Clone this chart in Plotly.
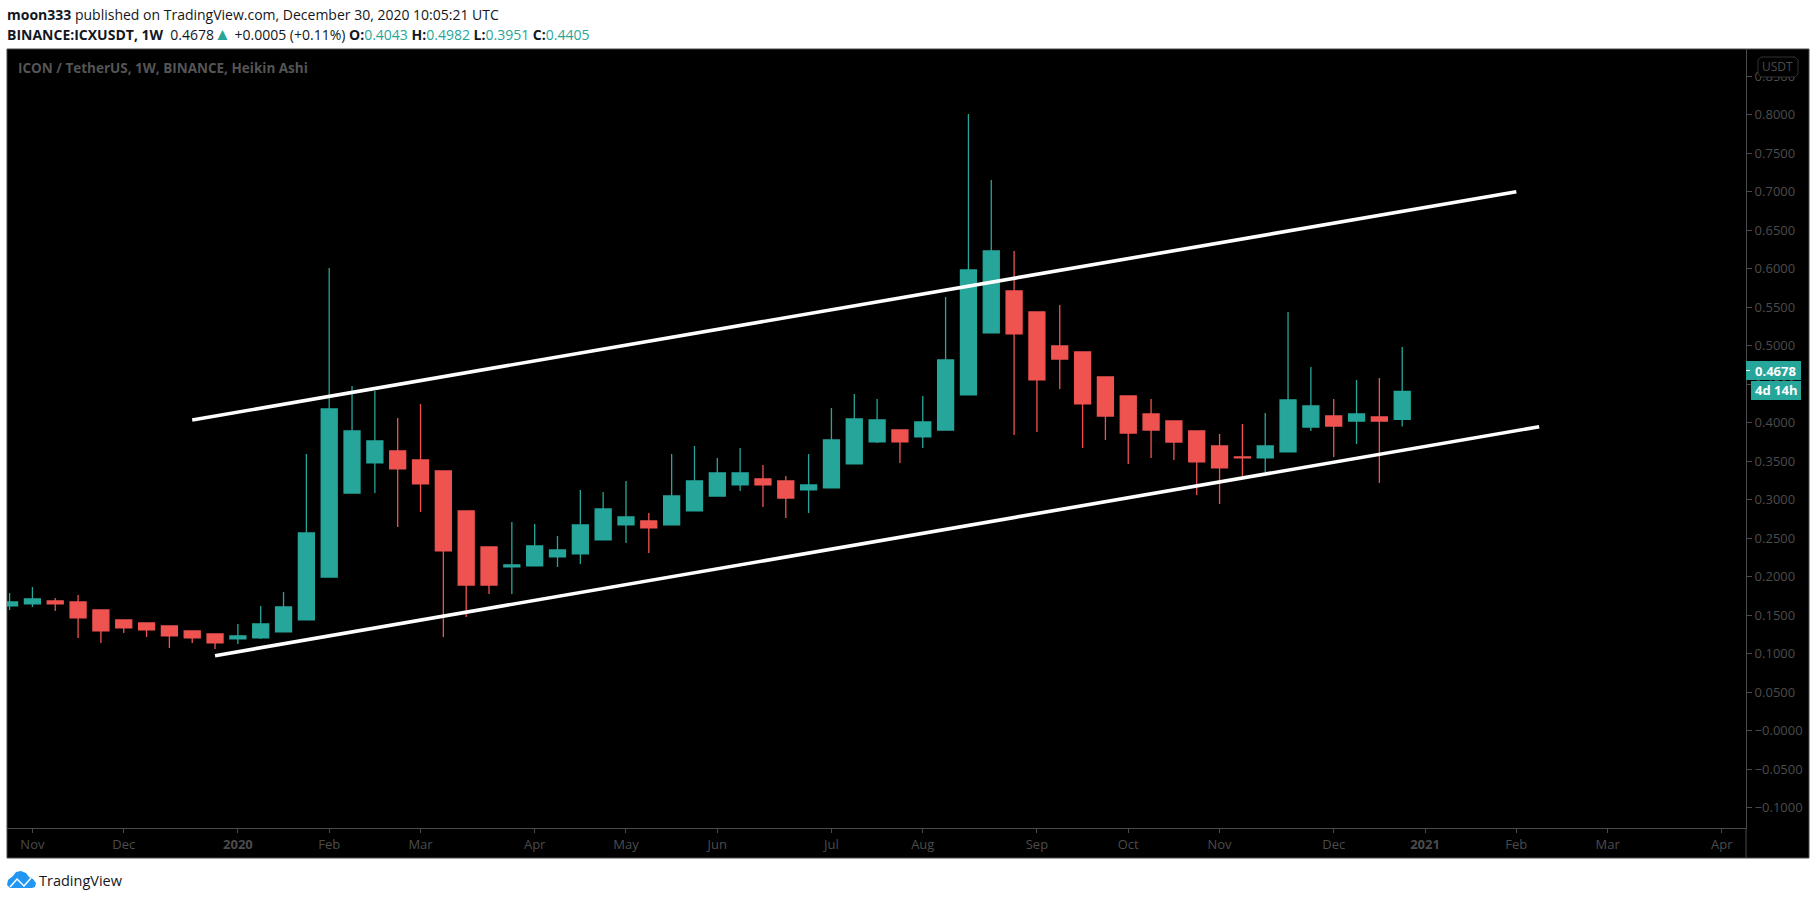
import pandas as pd
import plotly.graph_objects as go

# weekly Heikin Ashi candles
dates = pd.date_range('2019-10-28', periods=62, freq='7D')
opens = [0.1620, 0.1646, 0.1685, 0.1672, 0.1568, 0.1438, 0.1399, 0.1360, 0.1295, 0.1256,
         0.1191, 0.1204, 0.1282, 0.1438, 0.1996, 0.3087, 0.3477, 0.3633, 0.3516, 0.3373,
         0.2854, 0.2386, 0.2126, 0.2139, 0.2256, 0.2295, 0.2477, 0.2672, 0.2724, 0.2672,
         0.2854, 0.3048, 0.3191, 0.3269, 0.3243, 0.3126, 0.3152, 0.3464, 0.3750, 0.3905,
         0.3815, 0.3905, 0.4360, 0.5165, 0.5710, 0.5438, 0.4996, 0.4918, 0.4594, 0.4347,
         0.4113, 0.4022, 0.3892, 0.3697, 0.3555, 0.3542, 0.3620, 0.3944, 0.4087, 0.4022,
         0.4074, 0.4043]
closes = [0.1672, 0.1711, 0.1646, 0.1464, 0.1295, 0.1334, 0.1308, 0.1230, 0.1204, 0.1139,
          0.1230, 0.1386, 0.1607, 0.2568, 0.4178, 0.3892, 0.3763, 0.3399, 0.3204, 0.2334,
          0.1892, 0.1892, 0.2152, 0.2399, 0.2347, 0.2672, 0.2879, 0.2776, 0.2633, 0.3048,
          0.3243, 0.3347, 0.3347, 0.3191, 0.3022, 0.3191, 0.3776, 0.4048, 0.4035, 0.3750,
          0.4009, 0.4815, 0.5983, 0.6230, 0.5152, 0.4555, 0.4827, 0.4243, 0.4087, 0.3866,
          0.3905, 0.3749, 0.3490, 0.3412, 0.3542, 0.3697, 0.4295, 0.4217, 0.3957, 0.4113,
          0.4022, 0.4405]
highs = [0.1789, 0.1867, 0.1724, 0.1763, 0.1568, 0.1438, 0.1399, 0.1360, 0.1295, 0.1256,
         0.1386, 0.1620, 0.1802, 0.3594, 0.6009, 0.4477, 0.4412, 0.4061, 0.4243, 0.3373,
         0.2854, 0.2386, 0.2711, 0.2685, 0.2529, 0.3126, 0.3100, 0.3243, 0.2828, 0.3594,
         0.3698, 0.3542, 0.3672, 0.3451, 0.3308, 0.3594, 0.4191, 0.4373, 0.4308, 0.3905,
         0.4347, 0.5633, 0.8009, 0.7152, 0.6230, 0.5438, 0.5529, 0.4918, 0.4594, 0.4347,
         0.4308, 0.4022, 0.3892, 0.3853, 0.3983, 0.4126, 0.5438, 0.4723, 0.4308, 0.4555,
         0.4581, 0.4982]
lows = [0.1568, 0.1607, 0.1555, 0.1204, 0.1139, 0.1269, 0.1217, 0.1074, 0.1139, 0.1061,
        0.1126, 0.1191, 0.1282, 0.1438, 0.1996, 0.3087, 0.3087, 0.2646, 0.2841, 0.1217,
        0.1477, 0.1776, 0.1776, 0.2139, 0.2126, 0.2165, 0.2477, 0.2438, 0.2308, 0.2672,
        0.2854, 0.3048, 0.3113, 0.2905, 0.2763, 0.2828, 0.3152, 0.3464, 0.3737, 0.3477,
        0.3672, 0.3905, 0.4360, 0.5165, 0.3840, 0.3879, 0.4438, 0.3672, 0.3775, 0.3464,
        0.3542, 0.3516, 0.3061, 0.2944, 0.3308, 0.3360, 0.3620, 0.3892, 0.3555, 0.3723,
        0.3217, 0.3951]

# hand drawn channel
upper_x = ['2019-12-23', '2021-02-01']
upper_y = [0.4035, 0.7000]
lower_x = ['2019-12-30', '2021-02-08']
lower_y = [0.0974, 0.3948]

last_price = 0.4678

y_ticks = [0.85, 0.80, 0.75, 0.70, 0.65, 0.60, 0.55, 0.50, 0.45, 0.40, 0.35, 0.30,
           0.25, 0.20, 0.15, 0.10, 0.05, 0.0, -0.05, -0.10]
y_labels = ['0.8500', '0.8000', '0.7500', '0.7000', '0.6500', '0.6000', '0.5500', '0.5000',
            '0.4500', '0.4000', '0.3500', '0.3000', '0.2500', '0.2000', '0.1500', '0.1000',
            '0.0500', '−0.0000', '−0.0500', '−0.1000']
x_ticks = ['2019-11-04', '2019-12-02', '2020-01-06', '2020-02-03', '2020-03-02', '2020-04-06',
           '2020-05-04', '2020-06-01', '2020-07-06', '2020-08-03', '2020-09-07', '2020-10-05',
           '2020-11-02', '2020-12-07', '2021-01-04', '2021-02-01', '2021-03-01', '2021-04-05']
x_labels = ['Nov', 'Dec', '<b>2020</b>', 'Feb', 'Mar', 'Apr', 'May', 'Jun', 'Jul', 'Aug', 'Sep', 'Oct',
            'Nov', 'Dec', '<b>2021</b>', 'Feb', 'Mar', 'Apr']

GREEN = '#26a69a'
RED = '#ef5350'
GRID = '#4a4a4a'
DIM = '#4c4c4c'
FONT = 'Open Sans'

# page layout in pixels
L, T, R, B = 7, 49, 1746, 828


def px(x):
    return (x - L) / (R - L)


def py(y):
    return (B - y) / (B - T)


def path(points, close=True):
    s = 'M ' + ' L '.join(f'{px(a):.5f} {py(b):.5f}' for a, b in points)
    return s + (' Z' if close else '')


def label(x, y, text, size=13, color=DIM, xanchor='left', **kw):
    # annotations carry about 2px of padding
    if xanchor == 'left':
        x -= 2
    fig.add_annotation(x=px(x), y=py(y), xref='paper', yref='paper', text=text, showarrow=False,
                       xanchor=xanchor, yanchor='middle', align='left',
                       font=dict(family=FONT, size=size, color=color), **kw)


fig = go.Figure()
fig.add_trace(go.Candlestick(
    x=dates, open=opens, high=highs, low=lows, close=closes,
    increasing=dict(line=dict(color=GREEN, width=1.3), fillcolor=GREEN),
    decreasing=dict(line=dict(color=RED, width=1.3), fillcolor=RED),
    whiskerwidth=0,
))
for xs, ys in [(upper_x, upper_y), (lower_x, lower_y)]:
    fig.add_trace(go.Scatter(x=xs, y=ys, mode='lines', line=dict(color='white', width=3.6)))

fig.update_layout(
    width=1817, height=900, autosize=False, showlegend=False,
    margin=dict(l=L, r=1817 - R, t=T, b=900 - B, pad=0),
    paper_bgcolor='white', plot_bgcolor='black',
    boxgap=0.3, boxgroupgap=0,
    font=dict(family=FONT, size=13, color=DIM),
    xaxis=dict(type='date', range=['2019-10-27 05:00', '2021-04-12 10:00'], rangeslider=dict(visible=False),
               tickmode='array', tickvals=x_ticks, ticktext=x_labels, ticks='outside', ticklen=4,
               tickcolor=GRID, showgrid=False, zeroline=False, showline=True, linecolor=GRID, linewidth=1,
               tickfont=dict(color=DIM, size=13)),
    yaxis=dict(side='right', range=[-0.1264, 0.8853], tickmode='array', tickvals=y_ticks, ticktext=y_labels,
               ticks='outside', ticklen=5, tickcolor=GRID, showgrid=False, zeroline=False, showline=True,
               linecolor=GRID, linewidth=1, tickfont=dict(color=DIM, size=13)),
)

# black frame round the plot and price scale
fig.add_shape(type='rect', xref='paper', yref='paper', layer='below', x0=px(7), x1=px(1809), y0=py(49), y1=py(858),
              fillcolor='black', line=dict(color=GRID, width=1))
fig.add_shape(type='line', xref='paper', yref='paper', x0=px(1746), x1=px(1746), y0=py(828), y1=py(858),
              line=dict(color=GRID, width=1))

# currency badge sits over the top tick label
fig.add_shape(type='path', xref='paper', yref='paper', fillcolor='black', line=dict(color='#333333', width=1),
              path=path([(1761, 57), (1795, 57), (1798, 60), (1798, 74), (1795, 77), (1761, 77), (1758, 74), (1758, 60)]))
label(1778, 67, 'USDT', size=12, xanchor='center')

# last price and countdown tags
fig.add_shape(type='rect', xref='paper', yref='paper', fillcolor=GREEN, line=dict(width=0),
              x0=px(1746), x1=px(1801), y0=py(361), y1=py(380))
fig.add_shape(type='rect', xref='paper', yref='paper', fillcolor=GREEN, line=dict(width=0),
              x0=px(1751), x1=px(1801), y0=py(381), y1=py(400))
fig.add_shape(type='line', xref='paper', yref='y', x0=px(1746), x1=px(1750), y0=last_price, y1=last_price,
              line=dict(color='white', width=1))
label(1755, 370.5, f'<b>{last_price:.4f}</b>', color='white')
label(1755, 390.5, '<b>4d 14h</b>', color='white')

# chart caption
label(18, 68, '<b>ICON / TetherUS, 1W, BINANCE, Heikin Ashi</b>', size=13.5, color='#555555')

# header lines
label(7, 14, '<b>moon333</b> published on TradingView.com, December 30, 2020 10:05:21 UTC', size=14, color='#131722')
label(7, 33, '<b>BINANCE:ICXUSDT, 1W</b>  0.4678'
      f'<span style="color:{GREEN};font-size:17px">▲</span> +0.0005 (+0.11%) '
      f'<b>O:</b><span style="color:{GREEN}">0.4043</span> '
      f'<b>H:</b><span style="color:{GREEN}">0.4982</span> '
      f'<b>L:</b><span style="color:{GREEN}">0.3951</span> '
      f'<b>C:</b><span style="color:{GREEN}">0.4405</span>', size=14, color='#131722')

# footer logo
fig.add_shape(type='path', xref='paper', yref='paper', fillcolor='#2196f3', line=dict(width=0),
              path=path([(10, 888), (7, 885), (8, 880), (13, 876), (16, 872), (21, 871), (26, 873), (29, 877),
                         (33, 879), (36, 883), (35, 887), (32, 888)]))
fig.add_shape(type='path', xref='paper', yref='paper', line=dict(color='white', width=1.5),
              path=path([(10, 887), (17, 879), (24, 886), (31, 878)], close=False))
label(39, 880, 'TradingView', size=14.5, color='#131722')

fig.write_html('out.html', config=dict(displayModeBar=False), post_script="document.body.style.margin='0';")
